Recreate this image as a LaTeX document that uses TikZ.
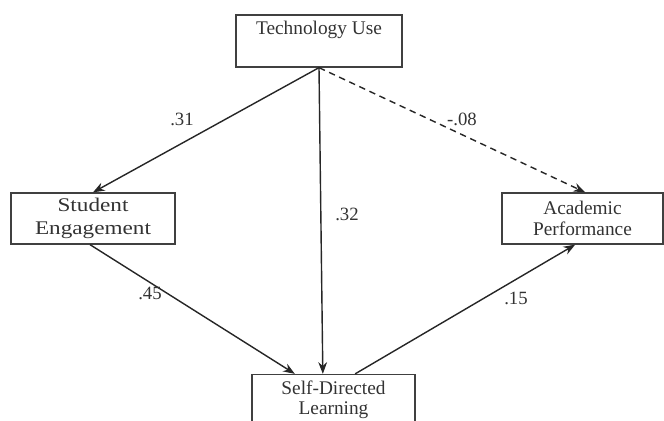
\documentclass[tikz,border=0pt]{standalone}
\usepackage{fontspec}
\setmainfont{Liberation Serif}
\newfontfamily\wideserif[FakeStretch=1.2]{Liberation Serif}
\usetikzlibrary{positioning,arrows.meta}

\tikzset{
    varbox/.style={draw=black!75, line width=1.1pt, align=center, text=black!80,
        minimum height=1.53cm, font=\fontsize{16.5}{17.5}\selectfont},
    link/.style={-{Stealth[length=10pt,width=7.5pt]}, line width=1.2pt, draw=black!85},
    coef/.style={text=black!80, font=\fontsize{16}{17}\selectfont}
}

\begin{document}
\begin{tikzpicture}[x=0.03cm,y=-0.03cm]
                \useasboundingbox (0,0) rectangle (664,421);
                \begin{scope}
                    \node [varbox, minimum width=4.98cm, minimum height=1.56cm] (tech) at (319,41)    {Technology Use\\ \strut};
                    \node [varbox, minimum width=4.92cm, font=\wideserif\fontsize{16.5}{19}\selectfont] (engage) at (93,218.5) {Student\\Engagement};
                    \node [varbox, minimum width=4.83cm] (perf)   at (582.5,218.5) {Academic\\Performance};
                    \node [varbox, minimum width=4.89cm] (sdl)    at (333.5,400)   {Self-Directed\\Learning};

                    \draw [link] (tech.south) -- (engage.north);
                    \draw [link] (tech.south) -- ([xshift=-0.32cm]sdl.north);
                    \draw [link, dash pattern=on 5.5pt off 4pt] (tech.south) -- ([xshift=0.08cm]perf.north);
                    \draw [link] ([xshift=-0.09cm]engage.south) -- ([xshift=-1.16cm]sdl.north);
                    \draw [link] ([xshift=0.65cm]sdl.north) -- ([xshift=-0.22cm]perf.south);

                    \node [coef] (c31) at (182,119) {.31};
                    \node [coef] (c08) at (462,119) {-.08};
                    \node [coef] (c32) at (347,214) {.32};
                    \node [coef] (c45) at (150,293) {.45};
                    \node [coef] (c15) at (516,298) {.15};
                \end{scope}
\end{tikzpicture}
\end{document}
